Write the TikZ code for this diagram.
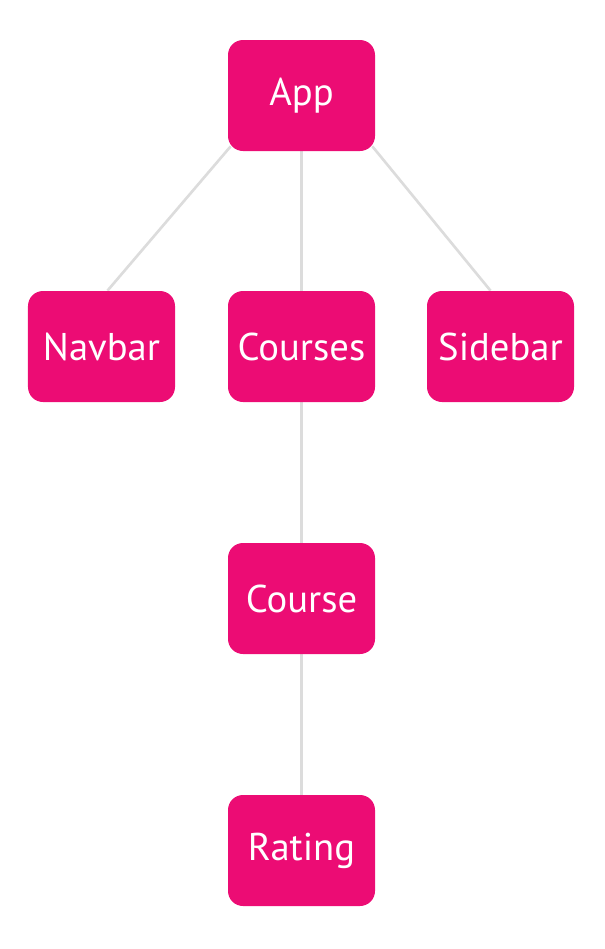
\documentclass[tikz,border=0pt]{standalone}
\usepackage{fontspec}
\setmainfont{PT Sans}
\usepackage{xcolor}
\usepackage{tikz}
\usetikzlibrary{backgrounds}
\definecolor{boxpink}{HTML}{EC0C74}
\definecolor{linkgray}{HTML}{DCDCDC}

\begin{document}
\begin{tikzpicture}[
    comp/.style={fill=boxpink, rounded corners=0.3cm, minimum width=2.94cm,
        minimum height=2.22cm, inner sep=0pt, text=white, font=\fontsize{22}{26}\selectfont},
    link/.style={draw=linkgray, line width=1.5pt}
]

    % Fix the page size
    \useasboundingbox (0,0) rectangle (12.1,-18.98);

    % Components
    \node[comp] (app) at (6.03,-1.91) {App};
    \node[comp] (navbar) at (2.03,-6.93) {Navbar};
    \node[comp] (courses) at (6.03,-6.93) {Courses};
    \node[comp] (sidebar) at (10.01,-6.93) {Sidebar};
    \node[comp] (course) at (6.03,-11.97) {Course};
    \node[comp] (rating) at (6.03,-17.01) {Rating};

    % Links between components
    \begin{scope}[on background layer]
    \draw[link] ([shift={(0.06,0.1)}]app.south west) -- ([xshift=0.12cm]navbar.north);
    \draw[link] (app.south) -- (courses.north);
    \draw[link] ([shift={(-0.06,0.1)}]app.south east) -- ([xshift=-0.2cm]sidebar.north);
    \draw[link] (courses.south) -- (course.north);
    \draw[link] (course.south) -- (rating.north);
    \end{scope}

\end{tikzpicture}
\end{document}
